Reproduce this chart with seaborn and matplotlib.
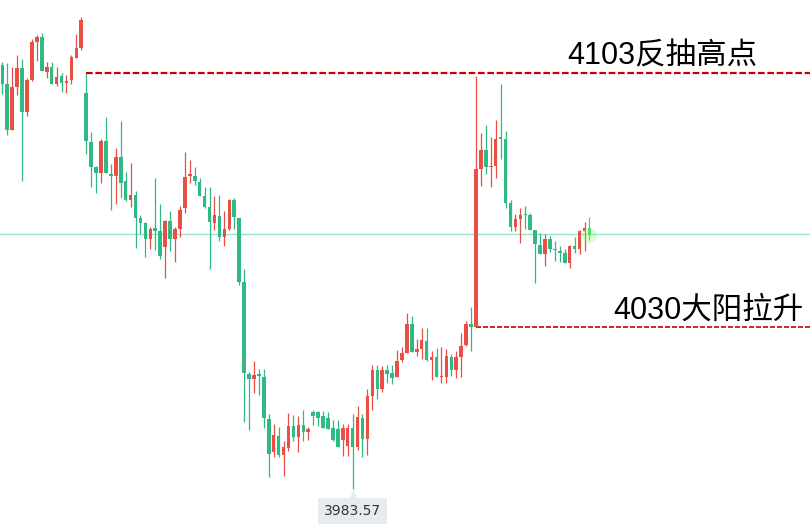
import numpy as np
import pandas as pd
import seaborn as sns
import matplotlib
matplotlib.use('Agg')
import matplotlib.pyplot as plt
from matplotlib.transforms import offset_copy

# ── Candle data ──────────────────────────────────────────────────────
opens = [
    4105.1, 4099.7, 4086.5, 4098.9, 4104.2, 4091.8, 4100.9, 4111.8, 4113.1, 4103.2,
    4104.5, 4099.7, 4102.0, 4100.1, 4100.9, 4107.2, 4110.1, 4097.0, 4083.0, 4075.8,
    4074.1, 4083.4, 4073.9, 4073.4, 4078.7, 4071.9, 4066.5, 4067.9, 4061.2, 4059.8,
    4055.2, 4058.4, 4057.6, 4053.1, 4060.4, 4055.2, 4058.2, 4064.1, 4073.3, 4073.3,
    4071.6, 4067.6, 4064.5, 4060.0, 4061.9, 4056.0, 4058.1, 4066.5, 4061.4, 4043.1,
    4016.6, 4015.2, 4016.6, 4015.8, 4003.7, 3994.1, 3998.8, 3993.4, 3995.5, 4001.7,
    3998.6, 4002.0, 4000.1, 4005.8, 4005.6, 4004.6, 4004.0, 4001.2, 4000.9, 3997.7,
    3995.9, 4001.1, 3995.8, 4003.9, 3998.1, 4010.3, 4017.8, 4012.4, 4017.8, 4016.8,
    4015.8, 4020.6, 4022.7, 4030.9, 4023.0, 4023.8, 4026.0, 4020.6, 4021.5, 4015.8,
    4015.8, 4021.5, 4017.8, 4021.6, 4024.8, 4030.9, 4030.0, 4075.4, 4080.8, 4076.0,
    4076.3, 4084.4, 4083.9, 4065.5, 4058.8, 4061.0, 4062.5, 4062.2, 4057.9, 4053.6,
    4051.1, 4055.3, 4052.4, 4051.8, 4051.3, 4048.5, 4053.3, 4052.4, 4057.6, 4058.4,
]
closes = [
    4099.7, 4086.5, 4098.8, 4104.2, 4091.8, 4100.9, 4111.7, 4113.1, 4103.5, 4104.5,
    4099.7, 4101.6, 4100.1, 4100.6, 4107.4, 4109.9, 4118.0, 4083.5, 4076.0, 4074.1,
    4083.4, 4074.1, 4073.4, 4078.7, 4071.4, 4066.5, 4067.9, 4061.4, 4060.0, 4055.2,
    4058.2, 4057.7, 4050.4, 4060.5, 4055.2, 4058.2, 4063.6, 4073.1, 4074.0, 4071.9,
    4067.7, 4064.5, 4060.3, 4062.2, 4056.0, 4058.2, 4066.5, 4061.7, 4043.1, 4017.0,
    4015.2, 4016.3, 4016.0, 4004.1, 3993.8, 3999.1, 3993.4, 3995.7, 4001.7, 3998.6,
    4002.0, 4000.1, 4000.8, 4004.7, 4004.1, 4001.2, 4000.9, 3997.7, 3995.8, 4001.1,
    4001.1, 3995.8, 4004.4, 3998.1, 4010.3, 4017.8, 4012.3, 4017.8, 4016.6, 4015.5,
    4020.3, 4022.6, 4030.9, 4023.0, 4023.8, 4026.3, 4020.6, 4021.5, 4015.8, 4016.0,
    4021.8, 4017.8, 4021.5, 4024.6, 4030.9, 4030.0, 4075.4, 4080.8, 4076.0, 4076.3,
    4084.1, 4083.9, 4065.7, 4058.8, 4061.0, 4062.2, 4062.2, 4057.9, 4053.8, 4051.1,
    4055.3, 4052.4, 4052.0, 4051.3, 4048.5, 4053.3, 4052.4, 4057.6, 4058.4, 4056.5,
]
highs = [
    4105.9, 4105.6, 4104.5, 4108.0, 4106.8, 4101.3, 4112.6, 4113.7, 4114.2, 4105.9,
    4105.9, 4104.5, 4102.8, 4102.3, 4108.0, 4114.0, 4119.0, 4103.0, 4085.9, 4076.2,
    4084.1, 4090.2, 4076.8, 4081.3, 4089.1, 4074.5, 4077.2, 4069.0, 4062.2, 4060.3,
    4058.6, 4072.8, 4065.3, 4060.7, 4063.3, 4058.6, 4064.7, 4080.2, 4077.9, 4075.8,
    4072.8, 4070.3, 4070.3, 4067.6, 4067.9, 4063.3, 4066.8, 4067.0, 4061.4, 4046.6,
    4017.3, 4020.3, 4018.0, 4018.0, 4005.1, 4002.3, 4001.5, 3997.4, 4005.3, 4004.9,
    4004.6, 4006.3, 4001.5, 4006.3, 4006.0, 4006.0, 4005.8, 4003.4, 4003.4, 4002.3,
    4002.3, 4005.1, 4007.4, 4005.1, 4012.4, 4019.2, 4019.2, 4018.9, 4019.2, 4019.2,
    4023.5, 4024.3, 4034.1, 4033.2, 4026.6, 4029.8, 4029.8, 4023.2, 4024.0, 4024.3,
    4023.8, 4022.3, 4023.2, 4028.4, 4031.8, 4035.9, 4102.0, 4085.7, 4087.9, 4084.6,
    4089.4, 4099.7, 4086.2, 4066.5, 4062.5, 4064.1, 4064.7, 4062.7, 4057.9, 4056.9,
    4056.7, 4056.1, 4054.8, 4053.3, 4052.3, 4053.6, 4055.9, 4057.9, 4060.3, 4061.6,
]
lows = [
    4096.8, 4085.1, 4086.5, 4096.6, 4072.0, 4090.5, 4100.6, 4106.4, 4103.5, 4101.5,
    4099.7, 4099.1, 4097.5, 4097.2, 4099.7, 4107.2, 4109.4, 4079.6, 4070.1, 4068.4,
    4071.3, 4074.1, 4063.6, 4065.2, 4067.1, 4066.2, 4064.5, 4052.8, 4056.7, 4050.2,
    4052.5, 4052.1, 4049.5, 4044.0, 4051.9, 4048.8, 4056.0, 4062.8, 4071.4, 4070.8,
    4067.6, 4064.1, 4046.7, 4057.9, 4054.8, 4053.3, 4057.9, 4058.2, 4042.1, 4002.9,
    4000.6, 4011.2, 4010.6, 4001.2, 3987.2, 3992.9, 3992.9, 3987.5, 3994.6, 3997.5,
    3994.1, 3997.5, 3997.7, 4002.0, 4001.7, 4001.0, 4000.9, 3997.4, 3995.8, 3993.2,
    3993.2, 3983.57, 3994.8, 3992.9, 3993.5, 4006.3, 4009.5, 4011.4, 4014.1, 4013.7,
    4015.8, 4019.9, 4022.7, 4023.0, 4021.8, 4020.9, 4020.3, 4014.9, 4015.8, 4014.0,
    4014.1, 4016.0, 4015.5, 4015.8, 4024.6, 4023.2, 4030.0, 4070.5, 4073.9, 4070.3,
    4072.9, 4078.3, 4064.3, 4057.7, 4057.7, 4054.2, 4058.2, 4057.9, 4042.8, 4051.1,
    4047.5, 4051.6, 4049.1, 4048.6, 4048.5, 4046.9, 4051.4, 4050.9, 4051.9, 4055.0,
]

rebound_high = 4103.0      # 4103反抽高点
rally_start = 4030.0       # 4030大阳拉升
current_price = 4056.6
low_label = '3983.57'

RED = '#ea4f45'
GREEN = '#2fba83'
LAST_GREEN = '#46d46e'

df = pd.DataFrame({'open': opens, 'high': highs, 'low': lows, 'close': closes})
df['idx'] = np.arange(len(df))
df['up'] = df['close'] >= df['open']
df['color'] = np.where(df['up'], RED, GREEN)
df.loc[df.index[-1], 'color'] = LAST_GREEN
df['body_lo'] = df[['open', 'close']].min(axis=1)
df['body_h'] = (df['close'] - df['open']).abs().clip(lower=0.35)

sns.set_theme(style='white')
plt.rcParams['font.family'] = ['Liberation Sans', 'Noto Sans CJK SC', 'DejaVu Sans']

fig = plt.figure(figsize=(8.1, 5.24), dpi=100)
ax = fig.add_axes([0, 0, 1, 1])
ax.set_axis_off()

# current price line
ax.axhline(current_price, color='#9fe2c6', lw=1.0, zorder=1)

# wicks and bodies
ax.vlines(df['idx'], df['low'], df['high'], colors=df['color'], lw=0.9, zorder=2)
ax.bar(df['idx'], df['body_h'], bottom=df['body_lo'], width=0.72,
       color=df['color'], linewidth=0, zorder=3)

# glow on the live candle
ax.scatter(df['idx'].iloc[-1], df['close'].iloc[-1], s=120, color='#7dff5a',
           alpha=0.25, linewidth=0, zorder=4)

x_end = 163.7
i_high = int(np.argmin(np.abs(np.array(highs) - rebound_high)))
i_rally = len(df) - 24
ax.hlines(rebound_high, i_high, x_end, colors='#cc0000', lw=1.6,
          linestyles=(0, (3, 1.2)), zorder=2)
ax.hlines(rally_start, i_rally, x_end, colors='#cc0000', lw=1.2,
          linestyles=(0, (3, 1.2)), zorder=2)

ax.text(114.6, rebound_high + 0.4, '4103反抽高点', fontsize=22, color='black',
        ha='left', va='bottom')
ax.text(123.9, rally_start + 0.4, '4030大阳拉升', fontsize=22, color='black',
        ha='left', va='bottom')

# low price tag
i_low = int(np.argmin(lows))
ax.annotate(low_label, xy=(i_low, lows[i_low]), xytext=(0, -22),
            textcoords='offset pixels', ha='center', va='center',
            fontsize=10, color='#333333', family='DejaVu Sans',
            bbox=dict(boxstyle='square,pad=0.45', fc='#e8ebee', ec='none'))
tri = offset_copy(ax.transData, fig=fig, x=0, y=-7, units='dots')
ax.plot([i_low], [lows[i_low]], marker='^', ms=8, color='#e8ebee',
        mec='none', transform=tri, zorder=5)

ax.set_xlim(-0.47, x_end)
ax.set_ylim(3973.6, 4123.8)

fig.savefig('out.png', dpi=100)
plt.close(fig)
print('saved out.png')
